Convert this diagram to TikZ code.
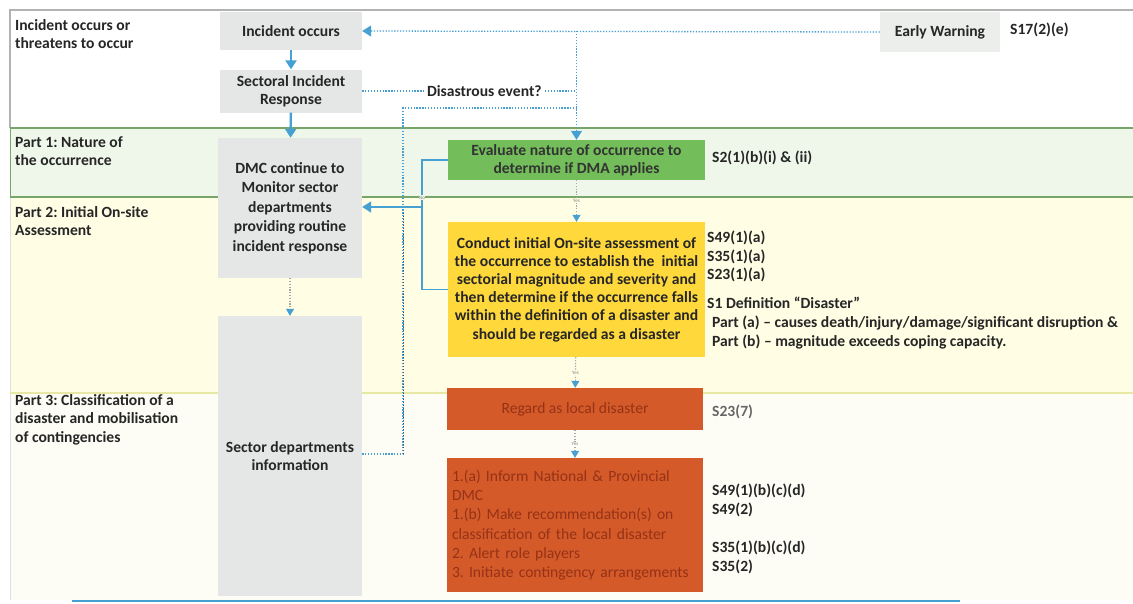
\documentclass[tikz,border=0pt]{standalone}
\usepackage{fontspec}
\setmainfont{Carlito}
\usetikzlibrary{positioning,arrows.meta}
\frenchspacing

\definecolor{arrowblue}{RGB}{70,160,210}
\definecolor{boxgray}{RGB}{229,231,231}
\definecolor{ewgray}{RGB}{236,238,236}
\definecolor{evalgreen}{RGB}{115,190,90}
\definecolor{condyellow}{RGB}{255,216,60}
\definecolor{locred}{RGB}{212,90,42}
\definecolor{redtext}{RGB}{150,50,22}
\definecolor{bandgreen}{RGB}{120,165,105}
\definecolor{bandone}{RGB}{239,247,234}
\definecolor{bandtwo}{RGB}{255,253,228}
\definecolor{bandthree}{RGB}{253,253,246}
\definecolor{bandline}{RGB}{232,232,165}

\begin{document}
\begin{tikzpicture}[x=1pt, y=-1pt,
  t/.style={font=\bfseries\fontsize{15.6}{18.5}\selectfont, text=black!85},
  b/.style={t, align=center, inner sep=0pt},
  g/.style={b, fill=boxgray},
  lbl/.style={t, anchor=north west, align=left, inner sep=0pt},
  yn/.style={font=\fontsize{5}{6}\selectfont, text=gray, inner sep=0.5pt},
  tip/.style={-{Triangle[length=9pt,width=11pt]}},
  a/.style={draw=arrowblue, line width=2.4pt, tip},
  d/.style={draw=arrowblue, line width=1.3pt, dash pattern=on 1.3pt off 1.6pt},
  dy/.style={draw=gray!70, line width=1.2pt, dash pattern=on 1.2pt off 1.6pt, -{Triangle[length=7pt,width=8pt,color=arrowblue,fill=arrowblue]}}]

  \useasboundingbox (0,0) rectangle (1133,603);
  \fill[white] (0,0) rectangle (1133,603);

  % bands
  \fill[bandone] (10,128) rectangle (1133,197);
  \fill[bandtwo] (10,197) rectangle (1133,393);
  \fill[bandthree] (10,393) rectangle (1133,600);
  \draw[gray!60, line width=1.2pt] (10,128) |- (1133,10);
  \draw[gray!25, line width=1pt] (10,197) -- (10,600);
  \draw[bandgreen, line width=1.8pt] (10,128) -- (1133,128);
  \draw[bandgreen, line width=1.8pt] (10,197) -- (1133,197);
  \draw[bandgreen, line width=1pt] (10,128) -- (10,197);
  \draw[bandline, line width=1.5pt] (10,393) -- (1133,393);

  % left labels
  \node[lbl] (L0) at (15,19) {Incident occurs or\\threatens to occur};
  \node[lbl] (L1) at (15,136) {Part 1: Nature of\\the occurrence};
  \node[lbl] (L2) at (15,206) {Part 2: Initial On-site\\Assessment};
  \node[lbl] (L3) at (15,394) {Part 3: Classification of a\\disaster and mobilisation\\of contingencies};

  % boxes
  \node[g, minimum width=142pt, minimum height=38pt] (inc) at (291,31) {Incident occurs};
  \node[g, minimum width=142pt, minimum height=43pt] (sec) at (291,91) {Sectoral Incident\\Response};
  \node[g, fill=ewgray, minimum width=120pt, minimum height=40pt] (ew) at (940,32) {Early Warning};
  \node[g, font=\bfseries\fontsize{15.6}{19.5}\selectfont, minimum width=144pt, minimum height=140pt] (dmc) at (290,208) {DMC continue to\\Monitor sector\\departments\\providing routine\\incident response};
  \node[g, minimum width=144pt, minimum height=280pt] (sdi) at (290,456) {Sector departments\\information};
  \node[b, fill=evalgreen, text=black!80, minimum width=257pt, minimum height=40pt] (eval) at (576.5,160) {Evaluate nature of occurrence to\\determine if DMA applies};
  \node[b, fill=condyellow, font=\bfseries\fontsize{15.6}{18.2}\selectfont, minimum width=257pt, minimum height=135pt] (cond) at (576.5,289.5) {Conduct initial On-site assessment of\\the occurrence to establish the \ initial\\sectorial magnitude and severity and\\then determine if the occurrence falls\\within the definition of a disaster and\\should be regarded as a disaster};
  \node[b, fill=locred, text=redtext, font=\fontsize{15.6}{18.5}\selectfont, minimum width=256pt, minimum height=42pt] (reg) at (575,409) {Regard as local disaster};
  \node[fill=locred, text=redtext, font=\fontsize{15.6}{19.3}\selectfont, align=left, text width=246pt, inner xsep=5pt, inner ysep=0pt, minimum height=134pt] (inf) at (575,525) {1.(a) Inform National \& Provincial\\DMC\\1.(b) Make recommendation(s) on\\classification of the local disaster\\2. Alert role players\\3. Initiate contingency arrangements};

  % section references
  \node[lbl] (s17) at (1010,23) {S17(2)(e)};
  \node[lbl] (s2) at (712,151) {S2(1)(b)(i) \& (ii)};
  \node[lbl] (s49a) at (707,231) {S49(1)(a)\\S35(1)(a)\\S23(1)(a)};
  \node[lbl] (s1) at (707,297) {S1 Definition “Disaster”};
  \node[lbl] (part) at (712,316) {Part (a) -- causes death/injury/damage/significant disruption \&\\Part (b) -- magnitude exceeds coping capacity.};
  \node[lbl, text=black!60] (s23) at (712,405) {S23(7)};
  \node[lbl] (s49b) at (712,484) {S49(1)(b)(c)(d)\\S49(2)};
  \node[lbl] (s35) at (712,541) {S35(1)(b)(c)(d)\\S35(2)};

  % joints
  \coordinate (no) at (422,207);
  \coordinate (j0) at (403,454);
  \coordinate (j1) at (403,108);
  \coordinate (j2) at (576,108);

  % connectors
  \path[a] (inc) -- (sec);
  \path[a] (sec) -- (dmc);
  \path[d, tip] (ew.west) -- (inc.east);
  \path[d, tip] (eval.north |- inc.east) -- (eval.north);
  \path[d] (sec.east) -- node[t, fill=white, inner sep=2pt, pos=0.57] {Disastrous event?} (sec.east -| eval.north);
  \path[d] (sdi.east |- j0) -- (j0) -- (j1) -- (j2);
  \path[draw=black!70, line width=1pt, dash pattern=on 1pt off 2pt] (j0) -- (403,212);
  \path[draw=arrowblue, line width=1.6pt] (eval.west) -| node[yn, fill=bandone, pos=0.9] {No} (no);
  \path[draw=arrowblue, line width=1.6pt] (cond.west) -| (no);
  \path[draw=arrowblue, line width=1.8pt, tip] (no) -- (dmc.east |- no);
  \path[dy] (eval) -- node[yn, fill=bandtwo] {Yes} (cond);
  \path[dy] (cond) -- node[yn, fill=bandtwo] {Yes} (reg);
  \path[dy] (reg) -- node[yn, fill=bandthree] {Yes} (inf);
  \path[dy] (dmc) -- (sdi);
  \draw[arrowblue, line width=2.5pt] (72,601) -- (960,601);
\end{tikzpicture}
\end{document}
